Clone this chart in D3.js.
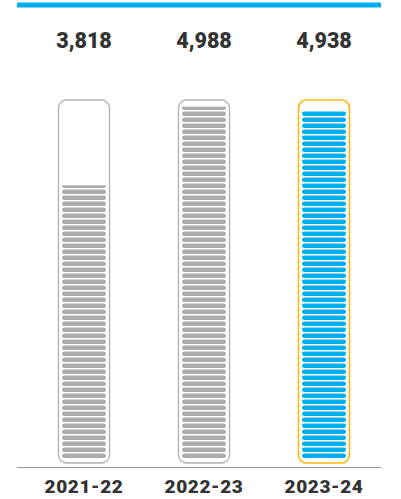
<!DOCTYPE html>
<html>
<head>
<meta charset="utf-8">
<script src="https://cdn.jsdelivr.net/npm/d3@7"></script>
<style>
  body { margin: 0; background: #fff; }
  text { font-family: Roboto, "Noto Sans", sans-serif; }
</style>
</head>
<body>
<div id="chart"></div>
<script>
// data
var years = ["2021-22", "2022-23", "2023-24"];
var totals = [3818, 4988, 4938];
var valueLabels = ["3,818", "4,988", "4,938"];
var highlightYear = "2023-24";

var width = 401,
  height = 499;

var svg = d3
  .select("#chart")
  .append("svg")
  .attr("width", width)
  .attr("height", height);

// top accent rule
svg
  .append("rect")
  .attr("x", 17)
  .attr("y", 2.5)
  .attr("width", 364)
  .attr("height", 5)
  .attr("fill", "#00aeef");

var x = d3.scaleBand().domain(years).range([24, 384]).padding(0);

var y = d3.scaleLinear().domain([0, 5000]).range([441, 106]);

var boxW = 51,
  boxTop = 100,
  boxBottom = 463,
  stripeBottom = 458,
  pitch = 6,
  stripeH = 4.5;

var defs = svg.append("defs");

years.forEach(function (yr, i) {
  var cx = x(yr) + x.bandwidth() / 2;
  var hl = yr === highlightYear;
  var g = svg.append("g");

  // clip stripes to value height
  var clipId = "clip" + i;
  defs
    .append("clipPath")
    .attr("id", clipId)
    .append("rect")
    .attr("x", cx - boxW / 2)
    .attr("y", y(totals[i]))
    .attr("width", boxW)
    .attr("height", stripeBottom - y(totals[i]) + 1);

  var n = Math.floor((stripeBottom - boxTop) / pitch);
  g.append("g")
    .attr("clip-path", "url(#" + clipId + ")")
    .selectAll("rect")
    .data(d3.range(n))
    .enter()
    .append("rect")
    .attr("x", cx - boxW / 2 + 3.5)
    .attr("y", function (d) {
      return stripeBottom - stripeH - d * pitch;
    })
    .attr("width", boxW - 7)
    .attr("height", stripeH)
    .attr("rx", 2.2)
    .attr("fill", hl ? "#00aeef" : "#acacac");

  // container
  g.append("rect")
    .attr("x", cx - boxW / 2)
    .attr("y", boxTop)
    .attr("width", boxW)
    .attr("height", boxBottom - boxTop)
    .attr("rx", 8)
    .attr("fill", "none")
    .attr("stroke", hl ? "#fdb913" : "#b0b0b0")
    .attr("stroke-width", hl ? 1.6 : 1.3);

  // value label
  svg
    .append("text")
    .attr("x", cx)
    .attr("y", 48)
    .attr("text-anchor", "middle")
    .attr("font-size", 21.5)
    .attr("font-weight", 900)
    .attr("fill", "#333")
    .text(valueLabels[i]);
});

// baseline
svg
  .append("line")
  .attr("x1", 17)
  .attr("x2", 381)
  .attr("y1", 467.5)
  .attr("y2", 467.5)
  .attr("stroke", "#999")
  .attr("stroke-width", 1);

// category axis
var axis = svg
  .append("g")
  .attr("transform", "translate(0,467.5)")
  .call(d3.axisBottom(x).tickSize(0).tickPadding(0));
axis.select(".domain").remove();
axis
  .selectAll("text")
  .attr("y", 25)
  .attr("dy", 0)
  .attr("font-size", 19)
  .attr("font-weight", 900)
  .attr("letter-spacing", 0.6)
  .attr("fill", "#333")
  .style("font-family", "Roboto, sans-serif");
</script>
</body>
</html>
